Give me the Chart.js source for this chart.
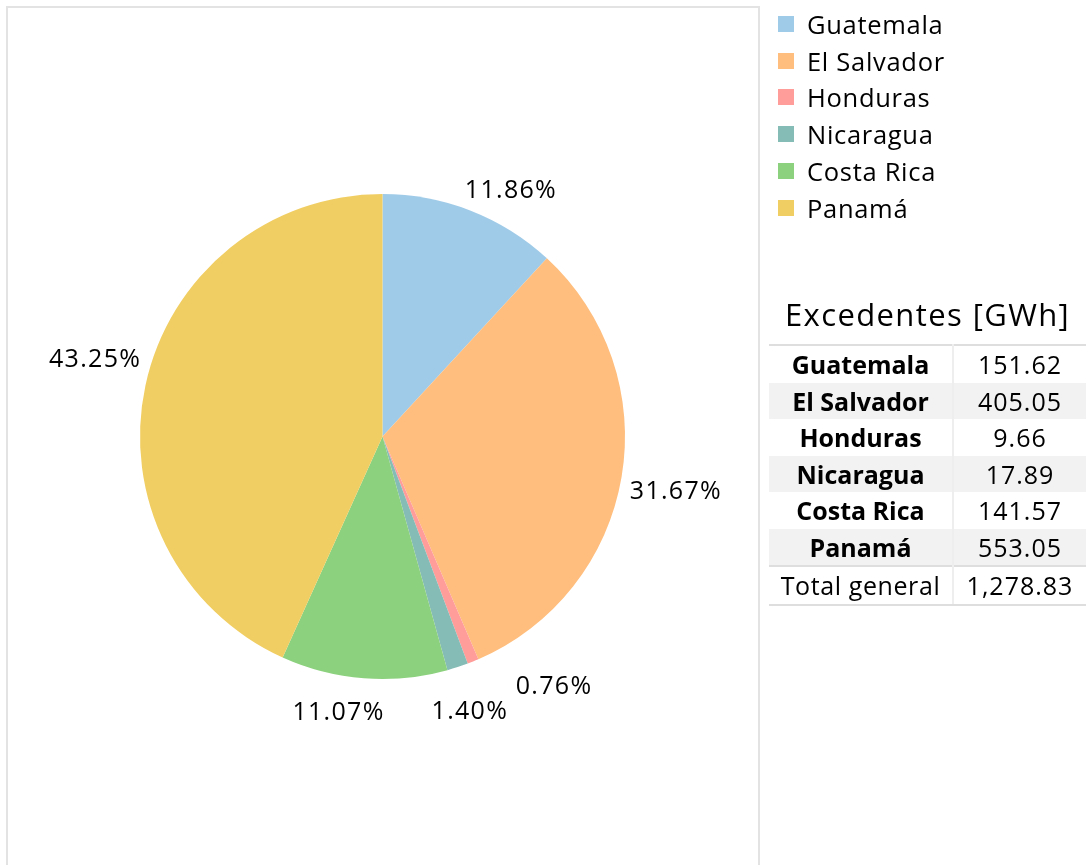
<!DOCTYPE html>
<html>
<head>
<meta charset="utf-8">
<script src="https://cdn.jsdelivr.net/npm/chart.js@4.4.1/dist/chart.umd.min.js"></script>
<style>
  html, body { margin: 0; padding: 0; background: #fff; }
  body { width: 1086px; height: 865px; position: relative; overflow: hidden; font-family: "Open Sans", sans-serif; color: #000; }
  #marco { position: absolute; left: 6px; top: 6px; width: 750px; height: 900px; border: 2px solid #e3e3e3; }
  #grafica { position: absolute; left: 0; top: 0; }
  #leyenda { position: absolute; left: 778px; top: 6px; }
  .item { position: absolute; height: 36px; display: flex; align-items: center; white-space: nowrap; font-size: 25.5px; letter-spacing: 0.7px; }
  .cuadro { width: 16px; height: 16px; margin-right: 13px; }
  #titulo { position: absolute; left: 769px; width: 317px; top: 292px; text-align: center; font-size: 31px; letter-spacing: 1.4px; line-height: 44px; }
  #tabla { position: absolute; left: 769px; top: 344px; width: 317px; border-collapse: collapse; font-size: 25px; }
  #tabla td { height: 36.5px; padding: 0; text-align: center; white-space: nowrap; letter-spacing: 1px; }
  #tabla td.pais { width: 183px; font-weight: bold; letter-spacing: 0; border-right: 2px solid #eeeeee; }
  #tabla tr.gris td { background: #f2f2f2; }
  #tabla tr.primera td { border-top: 2px solid #dedede; }
  #tabla tr.total td { border-top: 2px solid #dedede; border-bottom: 2px solid #dedede; }
  #tabla tr.total td.pais { font-weight: normal; letter-spacing: 0.6px; }
</style>
</head>
<body>
<div id="marco"></div>
<canvas id="grafica" width="1086" height="865"></canvas>
<div id="leyenda"></div>
<div id="titulo">Excedentes [GWh]</div>
<table id="tabla"><tbody id="tbodyExcedentes"></tbody></table>

<script>
// ——— Datos ——————————————————————————————————————
const paises = ["Guatemala", "El Salvador", "Honduras", "Nicaragua", "Costa Rica", "Panamá"];
const excedentes = [151.62, 405.05, 9.66, 17.89, 141.57, 553.05];
const totalGeneral = 1278.83;
const colores = ["#a0cbe8", "#ffbe7d", "#ff9d9a", "#86bcb6", "#8cd17d", "#f1ce63"];

// desplazamiento de cada etiqueta: [grados, separación en px]
const ajusteEtiquetas = [[6.2, 24], [0.8, 9], [-12.6, 48], [0.4, 35], [4.7, 26], [3, 17]];

const suma = excedentes.reduce((a, v) => a + v, 0);
const porcentajes = excedentes.map((v) => ((v / suma) * 100).toFixed(2) + "%");

// ——— Etiquetas de porcentaje fuera del pastel ————————————
const etiquetasPastel = {
    id: "etiquetasPastel",
    afterDatasetsDraw(chart) {
        const ctx = chart.ctx;
        const arcos = chart.getDatasetMeta(0).data;
        ctx.save();
        ctx.font = "25px 'Open Sans'";
        ctx.letterSpacing = "1.3px";
        ctx.fillStyle = "#000";
        ctx.textAlign = "center";
        ctx.textBaseline = "middle";
        arcos.forEach((arco, i) => {
            const { x, y, startAngle, endAngle, outerRadius } = arco.getProps(
                ["x", "y", "startAngle", "endAngle", "outerRadius"], true);
            const [grados, sep] = ajusteEtiquetas[i];
            const ang = (startAngle + endAngle) / 2 + (grados * Math.PI) / 180;
            const ux = Math.cos(ang), uy = Math.sin(ang);
            const w = ctx.measureText(porcentajes[i]).width;
            const h = 20;
            const t = Math.min(
                Math.abs(ux) > 1e-6 ? w / 2 / Math.abs(ux) : Infinity,
                Math.abs(uy) > 1e-6 ? h / 2 / Math.abs(uy) : Infinity);
            const d = outerRadius + sep + t;
            ctx.fillText(porcentajes[i], x + ux * d, y + uy * d + 1);
        });
        ctx.restore();
    },
};

// ——— Principal ——————————————————————————————————————
document.addEventListener("DOMContentLoaded", () => {
    const ctx = document.getElementById("grafica").getContext("2d");
    new Chart(ctx, {
        type: "pie",
        data: {
            labels: paises,
            datasets: [{ data: excedentes, backgroundColor: colores, borderWidth: 0 }],
        },
        options: {
            responsive: false,
            animation: false,
            layout: { padding: { left: 140, top: 194, right: 461, bottom: 186 } },
            plugins: { legend: { display: false }, tooltip: { enabled: false } },
        },
        plugins: [etiquetasPastel],
    });

    // leyenda
    const leyenda = document.getElementById("leyenda");
    paises.forEach((p, i) => {
        const item = document.createElement("div");
        item.className = "item";
        item.style.top = (i * 36.7) + "px";
        item.innerHTML = `<span class="cuadro" style="background:${colores[i]}"></span>${p}`;
        leyenda.appendChild(item);
    });

    // tabla de excedentes
    const tbody = document.getElementById("tbodyExcedentes");
    const fmt = (v) => v.toLocaleString("en-US", { minimumFractionDigits: 2, maximumFractionDigits: 2 });
    paises.forEach((p, i) => {
        const row = document.createElement("tr");
        if (i === 0) row.classList.add("primera");
        if (i % 2 === 1) row.classList.add("gris");
        row.innerHTML = `<td class="pais">${p}</td><td>${fmt(excedentes[i])}</td>`;
        tbody.appendChild(row);
    });
    const total = document.createElement("tr");
    total.className = "total";
    total.innerHTML = `<td class="pais">Total general</td><td>${fmt(totalGeneral)}</td>`;
    tbody.appendChild(total);
});
</script>
</body>
</html>
